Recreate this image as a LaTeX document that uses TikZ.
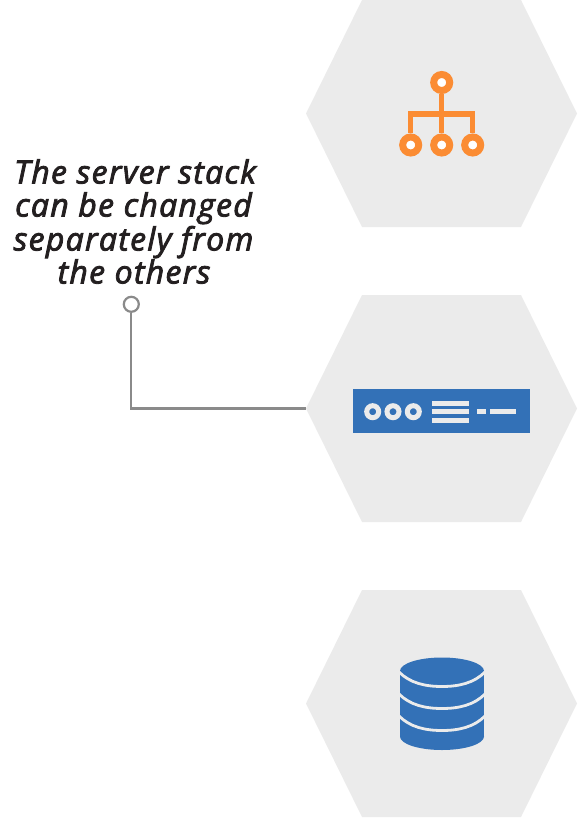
\documentclass[tikz,border=0pt]{standalone}
\usepackage{fontspec}
\setmainfont{Open Sans}
\newfontface\calloutface{Open Sans Italic}[FakeBold=2.6,LetterSpace=4]
\definecolor{hexgray}{HTML}{EBEBEB}
\definecolor{iconblue}{HTML}{3371B7}
\definecolor{iconorange}{HTML}{FB8C33}
\definecolor{linegray}{HTML}{8A8A8A}
\definecolor{inkdark}{HTML}{231F20}
\tikzset{
  hexcell/.style={fill=hexgray,draw=none},
  lbl/.style={inner sep=0pt,anchor=base,text=inkdark,font=\fontsize{32}{33}\calloutface},
  leader/.style={draw=linegray,line width=2.05pt},
  orangebar/.style={draw=iconorange,line width=5.5pt},
  lightbar/.style={fill=hexgray,draw=none},
}
\newcommand{\hexat}[1]{\fill[hexcell] (306,#1+113.5) -- (362,#1) -- (521,#1) -- (577,#1+113.5) -- (521,#1+227) -- (362,#1+227) -- cycle;}
\begin{document}
\begin{tikzpicture}[x=1pt,y=-1pt]
\useasboundingbox (0,0) rectangle (578,818);
% hexagons
\hexat{0}
\hexat{295}
\hexat{590}
\coordinate (hexmid) at (306,408.5);
% network icon
\foreach \n/\cx/\cy in {top/441.7/82.5,bl/410.7/145,bm/441.7/145,br/472.7/145}{
  \node[circle,draw=iconorange,line width=7pt,fill=white,minimum size=16pt,inner sep=0pt] (\n) at (\cx,\cy) {};
}
\draw[orangebar] (top) -- (bm);
\draw[orangebar] (bl) -- (410.7,113.8) -- (472.7,113.8) -- (br);
% server icon
\fill[iconblue] (353.3,389.3) rectangle (530,433.3);
\foreach \cx in {372.7,393,413.3}{
  \draw[draw=hexgray,line width=5pt] (\cx,411.7) circle (6pt);
}
\fill[lightbar] (432.3,401) rectangle (469.3,406);
\fill[lightbar] (432.3,409.3) rectangle (469.3,414.3);
\fill[lightbar] (432.3,417.5) rectangle (469.3,422.5);
\fill[lightbar] (477,409.3) rectangle (485.7,414.3);
\fill[lightbar] (490.3,409.3) rectangle (516.3,414.3);
% database icon
\fill[iconblue] (442,671) ellipse[x radius=42pt,y radius=13.5pt];
\fill[iconblue] (400,671) rectangle (484,736.5);
\fill[iconblue] (442,736.5) ellipse[x radius=42pt,y radius=13.5pt];
\foreach \dy in {673,695,717}{
  \draw[draw=hexgray,line width=2.8pt] (399,\dy-1) .. controls (410,\dy+10) and (425,\dy+13.5) .. (442,\dy+13.5)
     .. controls (459,\dy+13.5) and (474,\dy+10) .. (485,\dy-1);
}
% label
\node[lbl] (l1) at (135,183.5) {The server stack};
\node[lbl] (l2) at (133.5,216.5) {can be changed};
\node[lbl] (l3) at (133.5,250.5) {separately from};
\node[lbl] (l4) at (134,283.5) {the others};
% connector
\node[circle,draw=linegray,line width=2.2pt,fill=white,minimum size=15pt,inner sep=0pt] (dot) at (131.3,304.3) {};
\draw[leader] (dot.south) |- (hexmid);
\end{tikzpicture}
\end{document}
